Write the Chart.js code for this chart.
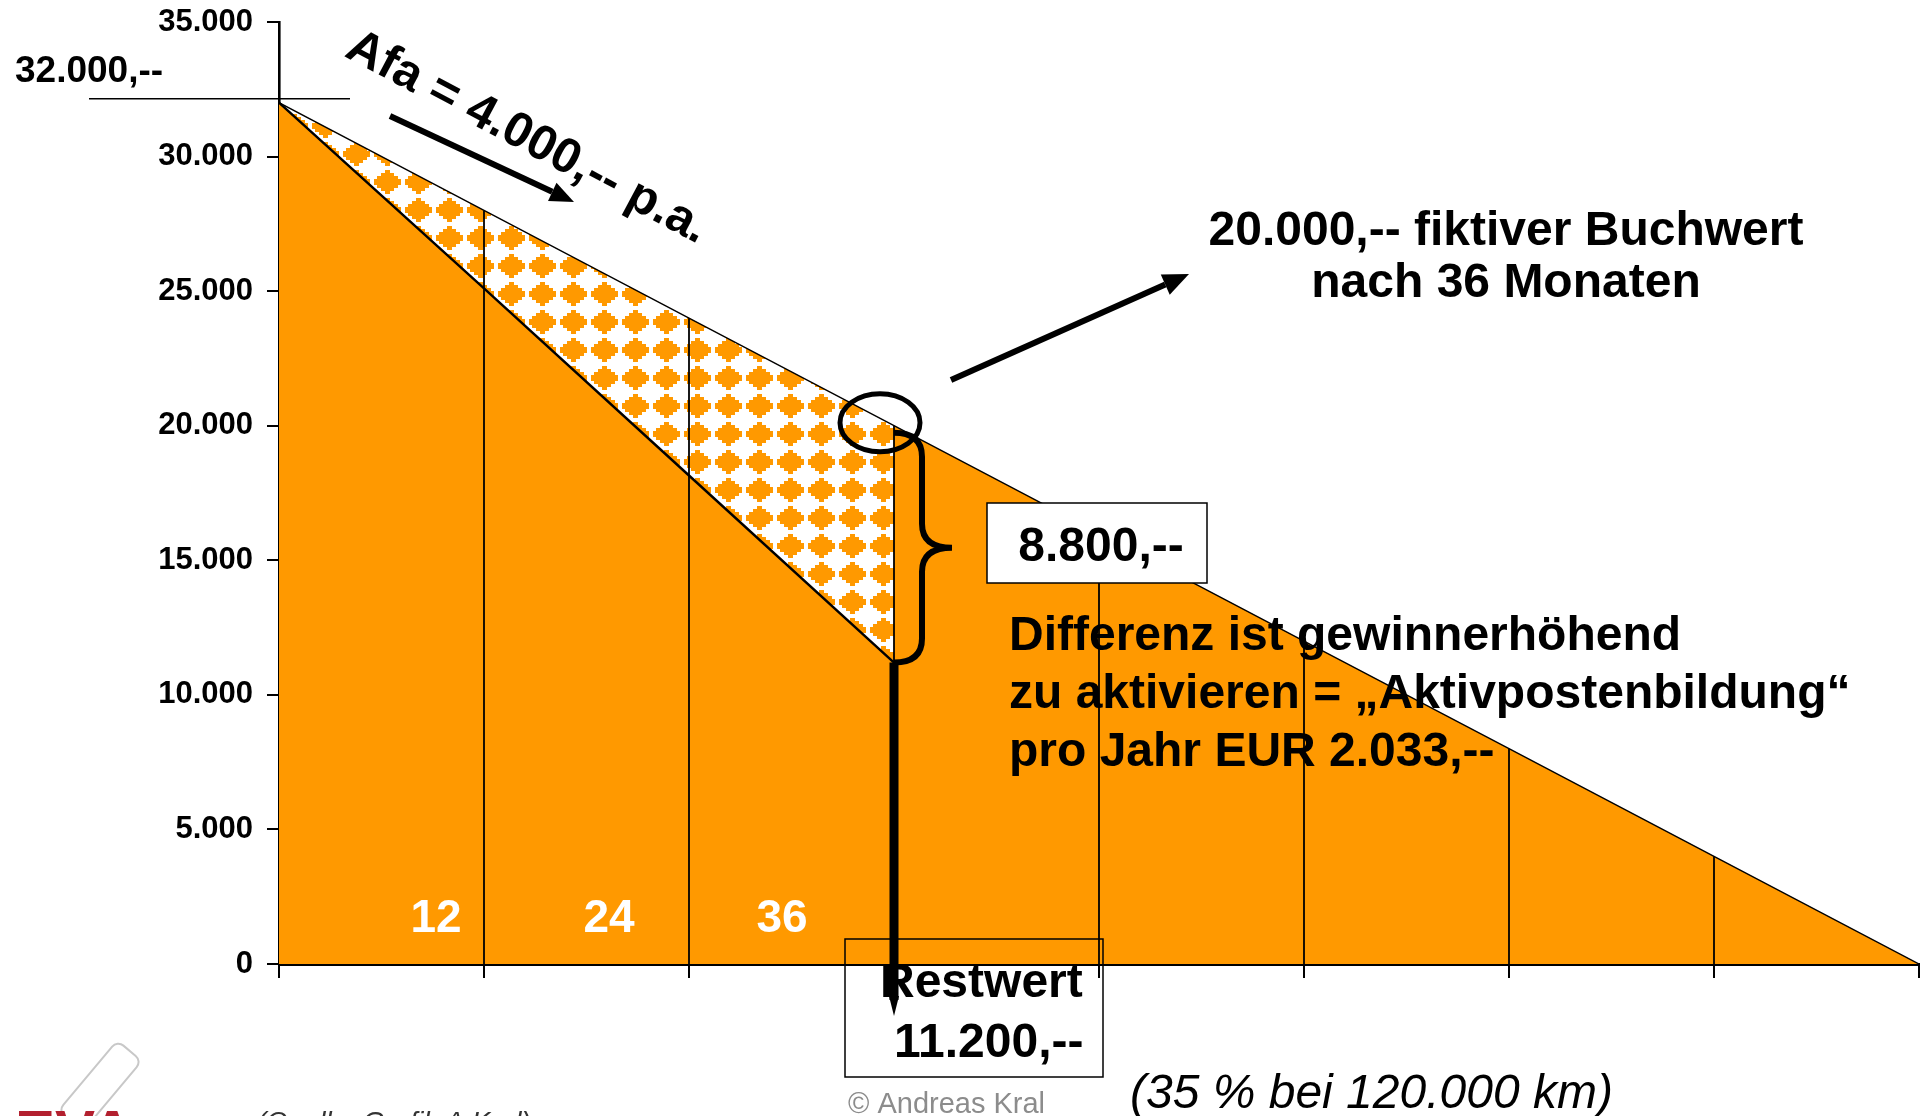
<!DOCTYPE html>
<html lang="de">
<head>
<meta charset="utf-8">
<title>Afa und Restwert</title>
<script src="https://cdn.jsdelivr.net/npm/chart.js@4.4.1/dist/chart.umd.min.js"></script>
<style>
  html, body { margin: 0; padding: 0; background: #fff; overflow: hidden; }
  #wrap { position: relative; width: 1921px; height: 1116px; }
</style>
</head>
<body>
<div id="wrap"><canvas id="chart" width="1921" height="1116"></canvas></div>
<script>
// Laufzeit in Monaten und Buchwert bei linearer Afa
const months = [0, 12, 24, 36, 48, 60, 72, 84, 96];
const bookValue = [32000, 28000, 24000, 20000, 16000, 12000, 8000, 4000, 0];

// tatsaechlicher Wertverlauf bis Vertragsende
const actualMonths = [0, 12, 24, 36];
const actualValue = [32000, 25100, 18150, 11200];

const yTicks = [0, 5000, 10000, 15000, 20000, 25000, 30000, 35000];
const periodLabels = ['12', '24', '36'];

const purchasePrice = 32000;
const fictiveValue = 20000;
const residualValue = 11200;
const difference = 8800;

const ORANGE = '#FF9900';
const FONT = '"Liberation Sans", Arial, sans-serif';

const fmt = v => String(v).replace(/\B(?=(\d{3})+(?!\d))/g, '.');

const canvas = document.getElementById('chart');
const mainCtx = canvas.getContext('2d');

// karomuster fuer die differenz-flaeche
function diamondPattern() {
  const c = document.createElement('canvas');
  c.width = 31; c.height = 28;
  const g = c.getContext('2d');
  g.fillStyle = '#fff';
  g.fillRect(0, 0, 31, 28);
  g.fillStyle = ORANGE;
  const widths = [5, 13, 21, 27, 27, 21, 13, 5];
  widths.forEach((w, i) => g.fillRect(Math.round(15.5 - w / 2), 2 + i * 3, w, 3));
  return mainCtx.createPattern(c, 'repeat');
}

const xy = (xs, ys) => xs.map((m, i) => ({x: m, y: ys[i]}));

const datasets = [
  {
    label: 'Buchwert linear',
    data: xy(months, bookValue),
    borderColor: '#000',
    borderWidth: 1.4,
    backgroundColor: ORANGE,
    fill: 'origin',
    order: 10
  },
  {
    label: 'Restwert',
    data: xy(actualMonths, actualValue),
    borderColor: '#000',
    borderWidth: 2.4,
    backgroundColor: diamondPattern(),
    fill: '-1',
    order: 5
  }
];

// senkrechte linien je 12 monate
months.slice(1, -1).forEach((m, i) => {
  datasets.push({
    label: 'Monat ' + m,
    data: [{x: m, y: 0}, {x: m, y: bookValue[i + 1]}],
    borderColor: '#000',
    borderWidth: 1.8,
    fill: false,
    order: 0
  });
});

function arrow(ctx, x1, y1, x2, y2, w, head, headW) {
  const a = Math.atan2(y2 - y1, x2 - x1);
  const bx = x2 - Math.cos(a) * head, by = y2 - Math.sin(a) * head;
  ctx.lineWidth = w;
  ctx.beginPath();
  ctx.moveTo(x1, y1);
  ctx.lineTo(bx, by);
  ctx.stroke();
  ctx.beginPath();
  ctx.moveTo(x2, y2);
  ctx.lineTo(bx + Math.sin(a) * headW / 2, by - Math.cos(a) * headW / 2);
  ctx.lineTo(bx - Math.sin(a) * headW / 2, by + Math.cos(a) * headW / 2);
  ctx.closePath();
  ctx.fill();
}

const annotations = {
  id: 'annotations',
  afterDraw(chart) {
    const {ctx, scales: {x, y}} = chart;
    const px = v => x.getPixelForValue(v);
    const py = v => y.getPixelForValue(v);
    ctx.save();
    ctx.fillStyle = '#000';
    ctx.strokeStyle = '#000';
    ctx.textBaseline = 'alphabetic';

    // anschaffungswert
    const yp = py(purchasePrice) - 4;
    ctx.lineWidth = 1.5;
    ctx.beginPath();
    ctx.moveTo(89, yp);
    ctx.lineTo(350, yp);
    ctx.stroke();
    ctx.font = `bold 37px ${FONT}`;
    ctx.textAlign = 'left';
    ctx.fillText(fmt(purchasePrice) + ',--', 15, 82);

    // afa text
    const afa = bookValue[0] - bookValue[1];
    ctx.save();
    ctx.translate(527, 138);
    ctx.rotate(28 * Math.PI / 180);
    ctx.font = `bold 49px ${FONT}`;
    ctx.textAlign = 'center';
    ctx.textBaseline = 'middle';
    ctx.fillText(`Afa = ${fmt(afa)},-- p.a.`, 0, 0);
    ctx.restore();
    arrow(ctx, 390, 116, 574, 202, 6, 24, 20);

    // kreis um fiktiven buchwert
    const x36 = px(36);
    ctx.lineWidth = 5;
    ctx.beginPath();
    ctx.ellipse(x36 - 14, py(fictiveValue) - 3, 40, 29, 0, 0, Math.PI * 2);
    ctx.stroke();

    arrow(ctx, 951, 380, 1189, 274, 6, 26, 22);
    ctx.font = `bold 48px ${FONT}`;
    ctx.textAlign = 'center';
    ctx.fillText(`${fmt(fictiveValue)},-- fiktiver Buchwert`, 1506, 245);
    ctx.fillText('nach 36 Monaten', 1506, 297);

    // geschweifte klammer
    const yTop = py(fictiveValue) + 7, yBot = py(residualValue);
    const mid = (yTop + yBot) / 2, sx = x36 + 28;
    ctx.lineWidth = 6;
    ctx.beginPath();
    ctx.moveTo(x36, yTop);
    ctx.quadraticCurveTo(sx, yTop, sx, yTop + 24);
    ctx.lineTo(sx, mid - 24);
    ctx.quadraticCurveTo(sx, mid, x36 + 58, mid);
    ctx.quadraticCurveTo(sx, mid, sx, mid + 24);
    ctx.lineTo(sx, yBot - 24);
    ctx.quadraticCurveTo(sx, yBot, x36, yBot);
    ctx.stroke();

    // differenz box
    ctx.fillStyle = '#fff';
    ctx.fillRect(987, 503, 220, 80);
    ctx.lineWidth = 1.5;
    ctx.strokeRect(987, 503, 220, 80);
    ctx.fillStyle = '#000';
    ctx.fillText(fmt(difference) + ',--', 1101, 561);

    ctx.textAlign = 'left';
    ctx.fillText('Differenz ist gewinnerhöhend', 1009, 650);
    ctx.fillText('zu aktivieren = \u201EAktivpostenbildung\u201C', 1009, 708);
    ctx.fillText('pro Jahr EUR 2.033,--', 1009, 766);

    // restwert pfeil
    ctx.lineWidth = 9;
    ctx.beginPath();
    ctx.moveTo(x36, yBot);
    ctx.lineTo(x36, 1000);
    ctx.stroke();
    ctx.beginPath();
    ctx.moveTo(x36 - 5, 996);
    ctx.lineTo(x36 + 5, 996);
    ctx.lineTo(x36, 1016);
    ctx.closePath();
    ctx.fill();

    ctx.lineWidth = 1.5;
    ctx.strokeRect(845, 939, 258, 138);
    ctx.font = `bold 48px ${FONT}`;
    ctx.fillText('Restwert', 880, 997);
    ctx.fillText(fmt(residualValue) + ',--', 894, 1057);

    // monatsbeschriftung
    ctx.fillStyle = '#fff';
    ctx.font = `bold 46px ${FONT}`;
    ctx.textAlign = 'center';
    const shift = [48, 80, 112];
    periodLabels.forEach((t, i) => ctx.fillText(t, px(months[i + 1]) - shift[i], 932));

    // fussnoten
    ctx.textAlign = 'left';
    ctx.fillStyle = '#000';
    ctx.font = `italic 48px ${FONT}`;
    ctx.fillText('(35 % bei 120.000 km)', 1130, 1108);
    ctx.fillStyle = '#8c8c8c';
    ctx.font = `29px ${FONT}`;
    ctx.fillText('\u00A9 Andreas Kral', 848, 1113);
    ctx.fillStyle = '#333';
    ctx.font = `italic 28px ${FONT}`;
    ctx.fillText('(Quelle: Grafik A.Kral)', 257, 1131);

    // logo
    ctx.save();
    ctx.translate(100, 1086);
    ctx.rotate(40 * Math.PI / 180);
    ctx.strokeStyle = '#c8c8c8';
    ctx.lineWidth = 2;
    ctx.beginPath();
    ctx.roundRect(-16, -46, 32, 92, 8);
    ctx.stroke();
    ctx.restore();
    ctx.fillStyle = '#b3202f';
    ctx.font = `bold 60px ${FONT}`;
    ctx.fillText('EVA', 15, 1152);

    ctx.restore();
  }
};

new Chart(canvas, {
  type: 'line',
  data: {datasets},
  options: {
    responsive: false,
    animation: false,
    layout: {padding: {top: 22, right: 2, left: 0, bottom: 0}},
    elements: {
      point: {radius: 0, hoverRadius: 0},
      line: {tension: 0}
    },
    plugins: {
      legend: {display: false},
      tooltip: {enabled: false},
      filler: {drawTime: 'beforeDatasetsDraw'}
    },
    scales: {
      x: {
        type: 'linear',
        min: months[0],
        max: months[months.length - 1],
        z: 1,
        afterBuildTicks: s => { s.ticks = months.map(v => ({value: v})); },
        afterFit: s => {
          s.height = 152;
          s.paddingLeft = s.paddingRight = 0;
        },
        ticks: {display: false},
        grid: {drawOnChartArea: false, drawTicks: true, tickLength: 14, color: '#000', lineWidth: 2},
        border: {color: '#000', width: 3}
      },
      y: {
        min: 0,
        max: 35000,
        z: 1,
        afterBuildTicks: s => { s.ticks = yTicks.map(v => ({value: v})); },
        afterFit: s => {
          s.width = 279;
          s.paddingTop = s.paddingBottom = 0;
        },
        ticks: {
          color: '#000',
          padding: 14,
          font: {family: FONT, size: 31, weight: 'bold'},
          callback: v => fmt(v)
        },
        grid: {drawOnChartArea: false, drawTicks: true, tickLength: 12, color: '#000', lineWidth: 2},
        border: {color: '#000', width: 2.6}
      }
    }
  },
  plugins: [annotations]
});
</script>
</body>
</html>
